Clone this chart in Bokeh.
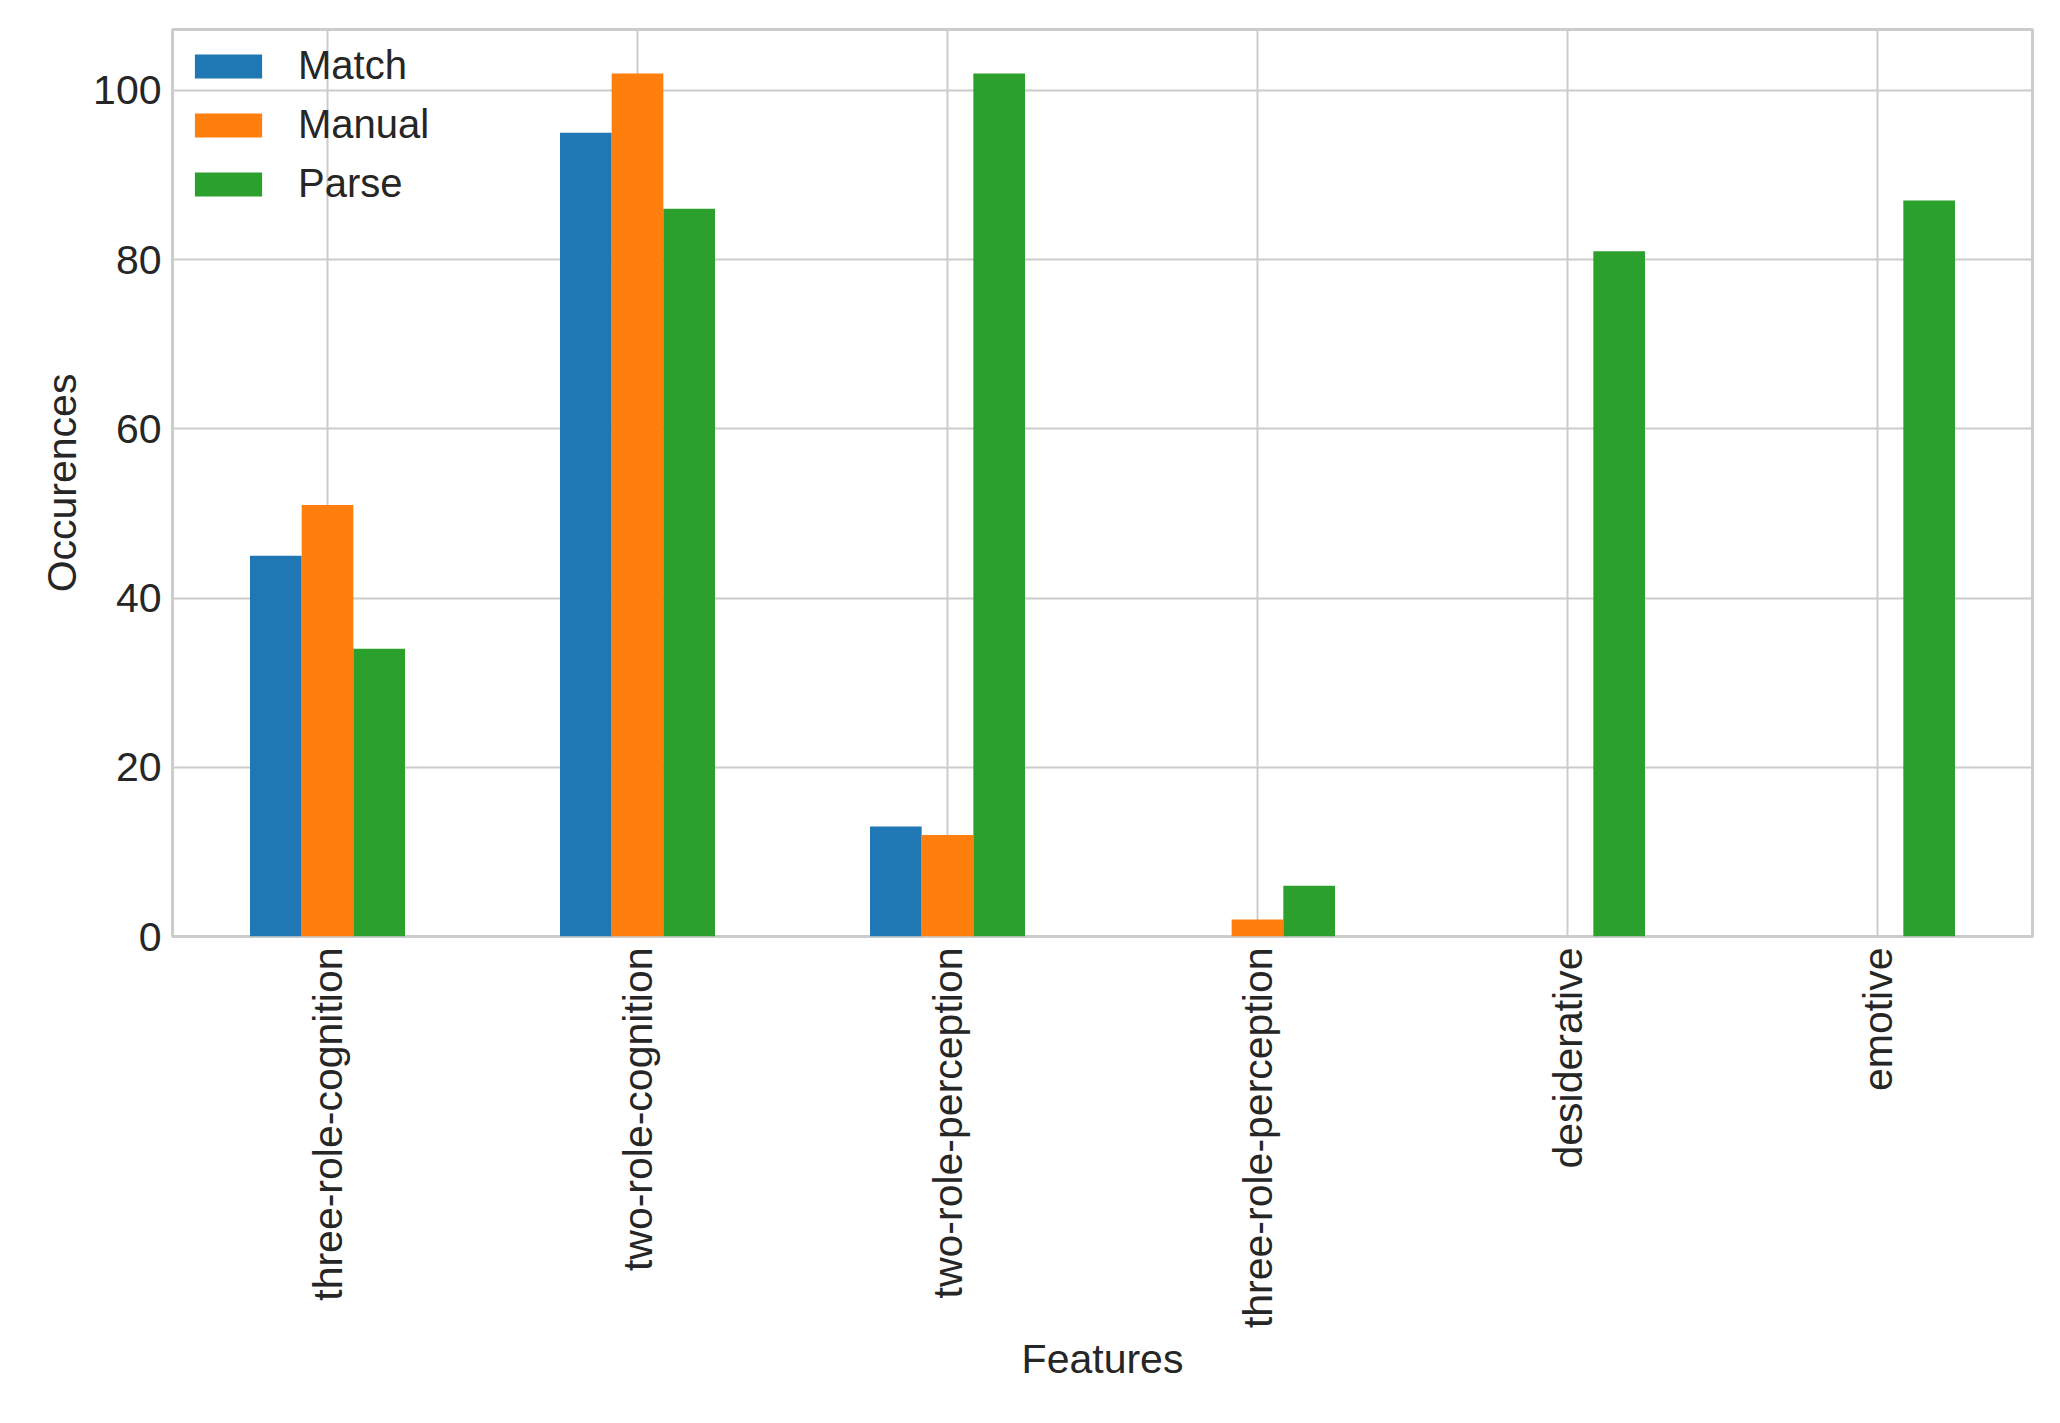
import math
from bokeh.plotting import figure
from bokeh.models import ColumnDataSource, Range1d, FixedTicker, Legend, LegendItem
from bokeh.embed import file_html
from bokeh.resources import INLINE

features = ["three-role-cognition", "two-role-cognition", "two-role-perception",
            "three-role-perception", "desiderative", "emotive"]
match = [45, 95, 13, 0, 0, 0]
manual = [51, 102, 12, 2, 0, 0]
parse = [34, 86, 102, 6, 81, 87]

series = [("Match", match, "#1f77b4"), ("Manual", manual, "#ff7f0e"), ("Parse", parse, "#2ca02c")]

FONT = "Liberation Sans"
p = figure(frame_width=1860, frame_height=907, output_backend="svg", toolbar_location=None,
           x_range=Range1d(-0.5, 5.5), y_range=Range1d(0, 107.2),
           min_border_left=172, min_border_top=29, min_border_right=10)

bw = 1 / 6
items = []
for i, (name, vals, col) in enumerate(series):
    xs = [k + (i - 1) * bw for k in range(len(features))]
    src = ColumnDataSource(dict(x=xs, top=vals))
    r = p.vbar(x="x", top="top", width=bw, bottom=0, source=src, color=col, line_color=None)
    items.append(LegendItem(label=name, renderers=[r]))

legend = Legend(items=items, location="top_left", border_line_color=None,
                background_fill_alpha=0, label_text_font=FONT, label_text_font_size="40px",
                label_text_color="#262626", glyph_width=84, glyph_height=30,
                label_standoff=28, spacing=14, margin=14, padding=26)
p.add_layout(legend)

p.xaxis.ticker = FixedTicker(ticks=list(range(len(features))))
p.xaxis.major_label_overrides = {i: f for i, f in enumerate(features)}
p.xaxis.major_label_orientation = math.pi / 2
p.yaxis.ticker = FixedTicker(ticks=[0, 20, 40, 60, 80, 100])
for ax in (p.xaxis, p.yaxis):
    ax.axis_line_color = None
    ax.major_tick_line_color = None
    ax.minor_tick_line_color = None
    ax.major_label_text_font = FONT
    ax.major_label_text_font_size = "41px"
    ax.major_label_text_color = "#262626"
    ax.axis_label_text_font = FONT
    ax.axis_label_text_font_size = "41px"
    ax.axis_label_text_font_style = "normal"
    ax.axis_label_text_color = "#262626"
p.xaxis.axis_label = "Features"
p.yaxis.axis_label = "Occurences"
p.grid.grid_line_color = "#cccccc"
p.grid.grid_line_width = 2
p.outline_line_color = "#cccccc"
p.outline_line_width = 3

open("out.html", "w").write(file_html(p, INLINE))
